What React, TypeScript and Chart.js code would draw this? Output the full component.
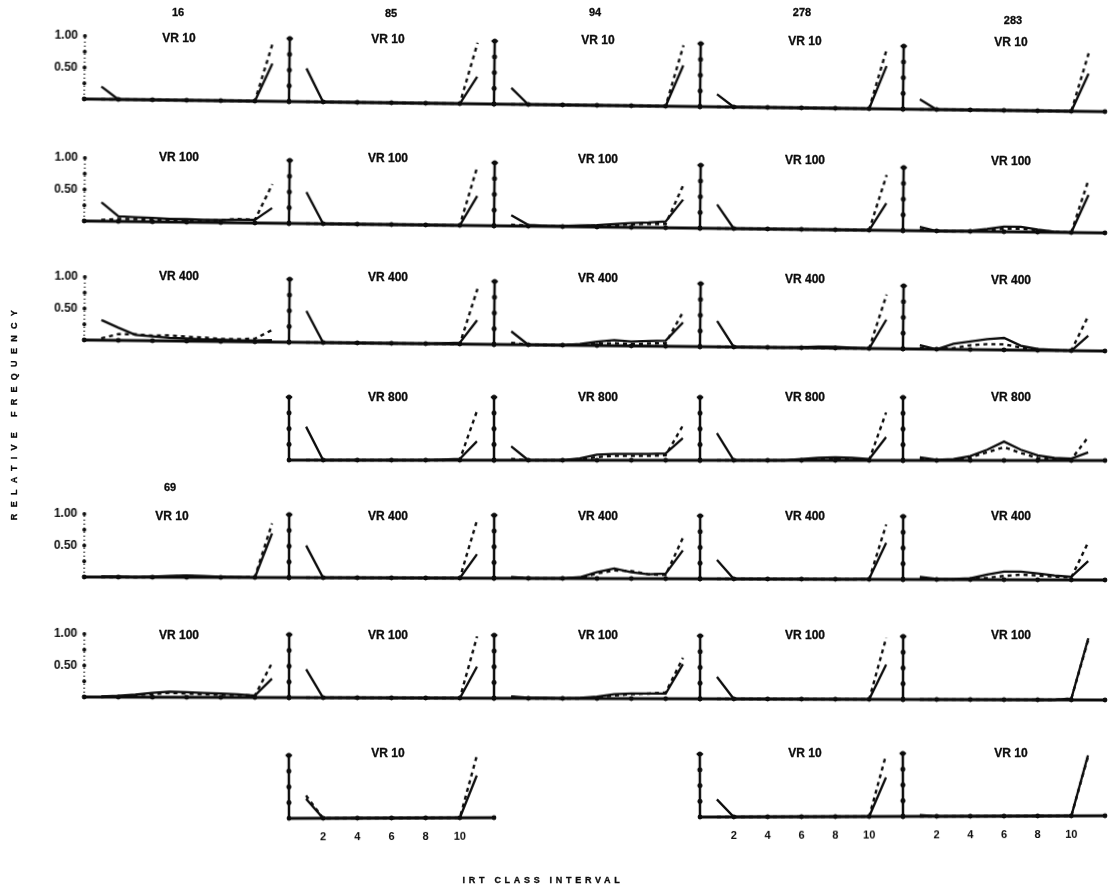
import React, { useEffect, useRef } from "react";
import { Chart, registerables } from "chart.js";

Chart.register(...registerables);

// ---------------- DATA ----------------
const subjects = ["16", "85", "94", "278", "283"];
const extraSubject = "69";
const irtClass = [1, 2, 3, 4, 5, 6, 7, 8, 9, 10, 11];
const xTickValues = [0, 2, 4, 6, 8, 10, 12];
const xLabelValues = [2, 4, 6, 8, 10];
const xLabelText = ["2", "4", "6", "8", "10"];
const yTickValues = [0.25, 0.5, 0.75, 1];
const yLabelValues = [1, 0.5];
const yLabelText = ["1.00", "0.50"];
const yAxisTitle = "RELATIVE FREQUENCY";
const xAxisTitle = "IRT CLASS INTERVAL";

const row0Titles = ["VR 10", "VR 10", "VR 10", "VR 10", "VR 10"];
const row1Titles = ["VR 100", "VR 100", "VR 100", "VR 100", "VR 100"];
const row2Titles = ["VR 400", "VR 400", "VR 400", "VR 400", "VR 400"];
const row3Titles = [null, "VR 800", "VR 800", "VR 800", "VR 800"];
const row4Titles = ["VR 10", "VR 400", "VR 400", "VR 400", "VR 400"];
const row5Titles = ["VR 100", "VR 100", "VR 100", "VR 100", "VR 100"];
const row6Titles = [null, "VR 10", null, "VR 10", "VR 10"];

const row0Solid = [
  [0.2, 0, 0, 0, 0, 0, 0, 0, 0, 0, 0.6],
  [0.53, 0, 0, 0, 0, 0, 0, 0, 0, 0, 0.43],
  [0.26, 0, 0, 0, 0, 0, 0, 0, 0, 0, 0.65],
  [0.2, 0, 0, 0, 0, 0, 0, 0, 0, 0, 0.68],
  [0.16, 0, 0, 0, 0, 0, 0, 0, 0, 0, 0.6],
];
const row0Dotted = [
  [0, 0, 0, 0, 0, 0, 0, 0, 0, 0, 0.92],
  [0, 0, 0, 0, 0, 0, 0, 0, 0, 0, 0.97],
  [0, 0, 0, 0, 0, 0, 0, 0, 0, 0, 0.97],
  [0, 0, 0, 0, 0, 0, 0, 0, 0, 0, 0.95],
  [0, 0, 0, 0, 0, 0, 0, 0, 0, 0, 0.93],
];
const row1Solid = [
  [0.3, 0.08, 0.07, 0.06, 0.05, 0.05, 0.04, 0.04, 0.05, 0.05, 0.24],
  [0.5, 0, 0, 0, 0, 0, 0, 0, 0, 0, 0.47],
  [0.17, 0.02, 0.01, 0.01, 0.02, 0.03, 0.05, 0.07, 0.08, 0.1, 0.45],
  [0.38, 0, 0, 0, 0, 0, 0, 0, 0, 0, 0.43],
  [0.06, 0, 0, 0.01, 0.04, 0.08, 0.08, 0.04, 0.01, 0, 0.6],
];
const row1Dotted = [
  [0.02, 0.04, 0.04, 0.03, 0.03, 0.03, 0.03, 0.04, 0.06, 0.05, 0.62],
  [0, 0, 0, 0, 0, 0, 0, 0, 0, 0, 0.95],
  [0.02, 0.01, 0.01, 0.01, 0.01, 0.02, 0.03, 0.05, 0.06, 0.06, 0.68],
  [0, 0, 0, 0, 0, 0, 0, 0, 0, 0, 0.88],
  [0.02, 0, 0, 0, 0.02, 0.05, 0.05, 0.03, 0.01, 0, 0.85],
];
const row2Solid = [
  [0.32, 0.2, 0.09, 0.07, 0.05, 0.04, 0.03, 0.03, 0.02, 0.02, 0.03],
  [0.5, 0, 0, 0, 0, 0, 0, 0, 0.01, 0.02, 0.38],
  [0.21, 0, 0, 0, 0.02, 0.06, 0.09, 0.07, 0.08, 0.09, 0.38],
  [0.41, 0, 0, 0, 0, 0.01, 0.02, 0.02, 0.01, 0, 0.46],
  [0.06, 0, 0.09, 0.13, 0.17, 0.19, 0.07, 0.02, 0.01, 0, 0.24],
];
const row2Dotted = [
  [0.03, 0.1, 0.1, 0.08, 0.09, 0.07, 0.06, 0.04, 0.04, 0.05, 0.19],
  [0, 0, 0, 0, 0, 0, 0, 0, 0, 0, 0.88],
  [0.03, 0, 0, 0, 0.01, 0.03, 0.04, 0.03, 0.04, 0.05, 0.55],
  [0, 0, 0, 0, 0, 0, 0, 0, 0, 0, 0.86],
  [0.02, 0, 0.02, 0.07, 0.09, 0.09, 0.04, 0.01, 0, 0, 0.56],
];
const row3Solid = [
  null,
  [0.53, 0, 0, 0, 0, 0, 0, 0, 0.01, 0.02, 0.3],
  [0.22, 0, 0, 0, 0.03, 0.09, 0.1, 0.1, 0.1, 0.11, 0.35],
  [0.43, 0, 0, 0, 0, 0.02, 0.04, 0.05, 0.04, 0.02, 0.37],
  [0.05, 0.01, 0.02, 0.07, 0.17, 0.3, 0.17, 0.08, 0.04, 0.03, 0.13],
];
const row3Dotted = [
  null,
  [0, 0, 0, 0, 0, 0, 0, 0, 0, 0.01, 0.78],
  [0.02, 0, 0, 0, 0.01, 0.05, 0.07, 0.07, 0.07, 0.08, 0.55],
  [0, 0, 0, 0, 0, 0.01, 0.02, 0.03, 0.02, 0.01, 0.76],
  [0.02, 0, 0.01, 0.05, 0.13, 0.21, 0.12, 0.04, 0.02, 0.02, 0.37],
];
const row4Solid = [
  [0.01, 0.01, 0, 0.01, 0.02, 0.03, 0.02, 0.01, 0.01, 0, 0.7],
  [0.51, 0, 0, 0, 0, 0, 0, 0, 0, 0, 0.38],
  [0.02, 0, 0, 0, 0.02, 0.1, 0.16, 0.1, 0.07, 0.08, 0.45],
  [0.3, 0, 0, 0, 0, 0, 0, 0, 0, 0.01, 0.58],
  [0.04, 0.01, 0.01, 0.02, 0.08, 0.13, 0.13, 0.1, 0.07, 0.05, 0.3],
];
const row4Dotted = [
  [0, 0, 0, 0, 0.01, 0.02, 0.01, 0.01, 0, 0.01, 0.86],
  [0, 0, 0, 0, 0, 0, 0, 0, 0, 0, 0.92],
  [0.01, 0, 0, 0, 0.01, 0.08, 0.13, 0.12, 0.07, 0.06, 0.65],
  [0, 0, 0, 0, 0, 0, 0, 0, 0, 0, 0.87],
  [0.02, 0, 0, 0.01, 0.03, 0.06, 0.08, 0.07, 0.05, 0.04, 0.6],
];
const row5Solid = [
  [0.01, 0.02, 0.04, 0.07, 0.09, 0.08, 0.07, 0.06, 0.05, 0.03, 0.3],
  [0.45, 0, 0, 0, 0, 0, 0, 0, 0, 0, 0.5],
  [0.03, 0.01, 0.01, 0, 0.01, 0.03, 0.07, 0.08, 0.08, 0.08, 0.55],
  [0.35, 0, 0, 0, 0, 0, 0, 0, 0, 0, 0.55],
  [0, 0, 0, 0, 0, 0, 0, 0, 0, 0.02, 0.98],
];
const row5Dotted = [
  [0, 0.01, 0.03, 0.05, 0.07, 0.06, 0.05, 0.04, 0.04, 0.03, 0.55],
  [0, 0, 0, 0, 0, 0, 0, 0, 0, 0, 0.98],
  [0.02, 0, 0, 0, 0, 0.02, 0.05, 0.07, 0.08, 0.1, 0.65],
  [0, 0, 0, 0, 0, 0, 0, 0, 0, 0, 0.98],
  [0, 0, 0, 0, 0, 0, 0, 0, 0, 0.02, 0.96],
];
const row6Solid = [
  null,
  [0.31, 0, 0, 0, 0, 0, 0, 0, 0, 0, 0.67],
  null,
  [0.28, 0, 0, 0, 0, 0, 0, 0, 0, 0, 0.62],
  [0.02, 0, 0, 0, 0, 0, 0, 0, 0, 0, 0.96],
];
const row6Dotted = [
  null,
  [0.36, 0, 0, 0, 0, 0, 0, 0, 0, 0, 0.98],
  null,
  [0, 0, 0, 0, 0, 0, 0, 0, 0, 0, 0.97],
  [0, 0, 0, 0, 0, 0, 0, 0, 0, 0, 0.94],
];

const rowTitles = [row0Titles, row1Titles, row2Titles, row3Titles, row4Titles, row5Titles, row6Titles];
const rowSolid = [row0Solid, row1Solid, row2Solid, row3Solid, row4Solid, row5Solid, row6Solid];
const rowDotted = [row0Dotted, row1Dotted, row2Dotted, row3Dotted, row4Dotted, row5Dotted, row6Dotted];

// ---------------- LAYOUT ----------------
const INK = "#0c0c0c";
const FONT = "'Liberation Sans', Arial, sans-serif";
const COL_AXIS_X = [84, 288.5, 494, 700, 903];
const COL_WIDTH = [204.5, 205.5, 206, 203, 202];
const ROW_BASE_Y = [99, 221, 340, 459.5, 577, 697, 819.3];
const ROW_TILT = [0.71, 0.67, 0.62, 0.03, 0.17, 0.17, -0.18];
const ROW_TITLE_Y = [38, 157, 276, 397, 516, 635, 753];
const TITLE_X = [179, 388, 598, 805, 1011];
const UNIT_H = 63;
const PAD_T = 8;
const PAD_R = 8;

const axesPlugin = {
  id: "panelAxes",
  beforeDatasetsDraw(chart: any, _args: any, opts: any) {
    const { ctx } = chart;
    const xs = chart.scales.x;
    const ys = chart.scales.y;
    const y0 = ys.getPixelForValue(0);
    const yTop = ys.getPixelForValue(1);
    const x0 = xs.getPixelForValue(0);
    const x12 = xs.getPixelForValue(12);
    ctx.save();
    ctx.strokeStyle = INK;
    ctx.fillStyle = INK;
    // x axis
    ctx.lineWidth = 2.8;
    ctx.beginPath();
    ctx.moveTo(x0 - 1, y0);
    ctx.lineTo(x12 + 1, y0);
    ctx.stroke();
    for (const v of xTickValues) {
      ctx.beginPath();
      ctx.arc(xs.getPixelForValue(v), y0, 2.4, 0, Math.PI * 2);
      ctx.fill();
    }
    // y axis
    if (opts.dotted) {
      ctx.lineWidth = 1.2;
      ctx.setLineDash([1.5, 2.5]);
    } else {
      ctx.lineWidth = 2.5;
    }
    ctx.beginPath();
    ctx.moveTo(x0, y0);
    ctx.lineTo(x0, yTop);
    ctx.stroke();
    ctx.setLineDash([]);
    for (const v of yTickValues) {
      ctx.beginPath();
      ctx.arc(x0, ys.getPixelForValue(v), opts.dotted ? 1.9 : 2.5, 0, Math.PI * 2);
      ctx.fill();
    }
    if (!opts.dotted) {
      ctx.lineWidth = 2.2;
      ctx.beginPath();
      ctx.moveTo(x0 - 3.2, yTop);
      ctx.lineTo(x0 + 3.2, yTop);
      ctx.stroke();
    }
    // tick labels
    ctx.font = `bold 12px ${FONT}`;
    if (opts.yLabels) {
      ctx.textAlign = "right";
      ctx.textBaseline = "middle";
      yLabelValues.forEach((v, i) => {
        ctx.fillText(yLabelText[i], x0 - 7, ys.getPixelForValue(v));
      });
    }
    if (opts.xLabels) {
      ctx.font = `bold 11px ${FONT}`;
      ctx.textAlign = "center";
      ctx.textBaseline = "middle";
      xLabelValues.forEach((v, i) => {
        ctx.fillText(xLabelText[i], xs.getPixelForValue(v), y0 + 19);
      });
    }
    ctx.restore();
  },
};

type PanelProps = {
  row: number;
  col: number;
  solid: number[];
  dotted: number[];
};

function Panel({ row, col, solid, dotted }: PanelProps) {
  const ref = useRef<HTMLCanvasElement | null>(null);
  const padL = col === 0 ? 46 : 8;
  const padB = row === 6 ? 30 : 8;
  const w = padL + COL_WIDTH[col] + PAD_R;
  const h = PAD_T + UNIT_H + padB;
  useEffect(() => {
    if (!ref.current) return;
    const chart = new Chart(ref.current, {
      type: "line",
      data: {
        datasets: [
          {
            data: irtClass.map((x, i) => ({ x, y: dotted[i] })),
            borderColor: INK,
            borderWidth: 2.4,
            borderDash: [4, 4],
            pointRadius: 0,
            tension: 0,
            fill: false,
            clip: false,
          } as any,
          {
            data: irtClass.map((x, i) => ({ x, y: solid[i] })),
            borderColor: INK,
            borderWidth: 2.3,
            pointRadius: 0,
            tension: 0,
            fill: false,
            clip: false,
          } as any,
        ],
      },
      options: {
        animation: false,
        responsive: false,
        maintainAspectRatio: false,
        events: [],
        layout: { padding: { left: padL, right: PAD_R, top: PAD_T, bottom: padB } },
        plugins: {
          legend: { display: false },
          tooltip: { enabled: false },
          title: { display: false },
          panelAxes: { dotted: col === 0, yLabels: col === 0, xLabels: row === 6 },
        } as any,
        scales: {
          x: { type: "linear", min: 0, max: 12, display: false },
          y: { type: "linear", min: 0, max: 1, display: false },
        },
      },
      plugins: [axesPlugin],
    });
    return () => chart.destroy();
  }, []);
  return (
    <canvas
      ref={ref}
      width={w}
      height={h}
      style={{
        position: "absolute",
        left: COL_AXIS_X[col] - padL,
        top: ROW_BASE_Y[row] - UNIT_H - PAD_T,
        width: w,
        height: h,
      }}
    />
  );
}

const textStyle = (x: number, y: number, size: number): React.CSSProperties => ({
  position: "absolute",
  left: x,
  top: y,
  transform: "translate(-50%, -50%)",
  fontFamily: FONT,
  fontWeight: "bold",
  fontSize: size,
  color: INK,
  whiteSpace: "nowrap",
  lineHeight: 1,
  WebkitTextStroke: "0.3px #0c0c0c",
});

export default function App() {
  return (
    <div
      style={{
        position: "absolute",
        left: 0,
        top: 0,
        width: 1117,
        height: 888,
        background: "#fff",
        overflow: "hidden",
      }}
    >
      {rowSolid.map((panels, r) => (
        <div
          key={"row" + r}
          style={{
            position: "absolute",
            left: 0,
            top: 0,
            width: 1117,
            height: 888,
            transform: `rotate(${ROW_TILT[r]}deg)`,
            transformOrigin: `84px ${ROW_BASE_Y[r]}px`,
          }}
        >
          {panels.map((s, c) =>
            s ? <Panel key={c} row={r} col={c} solid={s} dotted={rowDotted[r][c] as number[]} /> : null
          )}
        </div>
      ))}
      {rowTitles.map((titles, r) =>
        titles.map((t, c) =>
          t ? (
            <div key={`t${r}-${c}`} style={textStyle(r === 4 && c === 0 ? 172 : TITLE_X[c], ROW_TITLE_Y[r] + (r < 3 ? c : 0), 12)}>
              {t}
            </div>
          ) : null
        )
      )}
      <div style={textStyle(178, 12, 11)}>{subjects[0]}</div>
      <div style={textStyle(391, 12.5, 11)}>{subjects[1]}</div>
      <div style={textStyle(595, 12, 11)}>{subjects[2]}</div>
      <div style={textStyle(802, 12, 11)}>{subjects[3]}</div>
      <div style={textStyle(1013, 19.5, 11)}>{subjects[4]}</div>
      <div style={textStyle(170, 487, 11)}>{extraSubject}</div>
      <div
        style={{
          ...textStyle(14, 412, 9),
          transform: "translate(-50%, -50%) rotate(-90deg)",
          letterSpacing: 6.3,
        }}
      >
        {yAxisTitle}
      </div>
      <div style={{ ...textStyle(543, 880, 9), letterSpacing: 3.7 }}>{xAxisTitle}</div>
    </div>
  );
}
